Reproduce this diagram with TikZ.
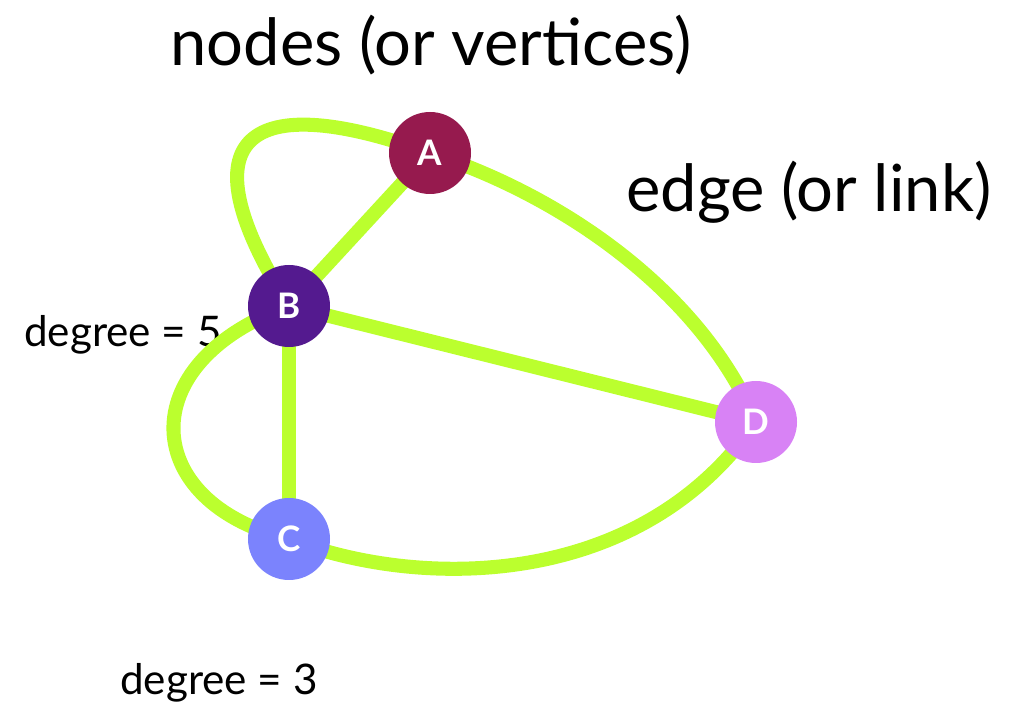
\documentclass[tikz,border=0pt]{standalone}
\usepackage{fontspec}
\setmainfont{Lato}
\usepackage{tikz}
\usetikzlibrary{positioning}
\definecolor{lime}{HTML}{BBFF2E}
\definecolor{colA}{HTML}{961A4E}
\definecolor{colB}{HTML}{541A8F}
\definecolor{colC}{HTML}{7B83FD}
\definecolor{colD}{HTML}{D882F5}

\begin{document}
\begin{tikzpicture}[
    vx/.style={circle, minimum size=1.64cm, inner sep=0pt, text=white,
               font=\fontsize{20}{24}\selectfont\bfseries},
    ed/.style={-, lime, line width=8pt},
    big/.style={font=\fontsize{37}{44}\selectfont},
    sm/.style={font=\fontsize{24}{28}\selectfont}
  ]
    \useasboundingbox (0,0) rectangle (20.24,14.06);
    \node[big] (nodesL) at (8.62,13.16) {nodes (or vertices)};
    \node[big] (edgeL)  at (16.18,10.22) {edge (or link)};
    \node[sm]  (degB)   at (2.46,7.36) {degree = 5};
    \node[sm]  (degC)   at (4.38,0.40) {degree = 3};
    \coordinate (A) at (8.60,11.00);
    \coordinate (B) at (5.78, 7.94);
    \coordinate (C) at (5.78, 3.28);
    \coordinate (D) at (15.12,5.62);
    \draw[ed] (A)--(B); \draw[ed] (B)--(D); \draw[ed] (B)--(C);
    \draw[ed] (B) .. controls (3.60,11.40) and (5.00,12.30) .. (A);
    \draw[ed] (B) .. controls (2.60,6.80) and (2.80,4.00) .. (C);
    \draw[ed] (A) .. controls (11.20,10.16) and (14.00,8.26) .. (D);
    \draw[ed] (C) .. controls (8.40,2.26) and (12.80,2.26) .. (D);
    % vertices on top of the edges
    \node[vx, fill=colA] (nA) at (A) {A};
    \node[vx, fill=colB] (nB) at (B) {B};
    \node[vx, fill=colC] (nC) at (C) {C};
    \node[vx, fill=colD] (nD) at (D) {D};
  \end{tikzpicture}
\end{document}
